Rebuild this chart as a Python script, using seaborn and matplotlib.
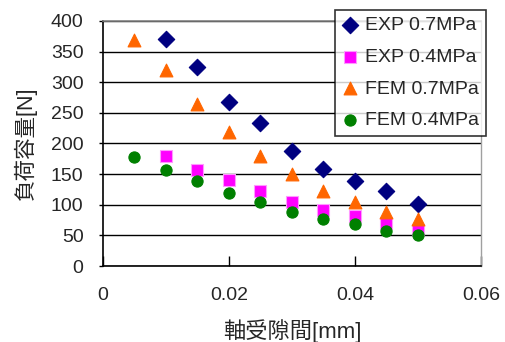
import numpy as np
import pandas as pd
import matplotlib
matplotlib.use("Agg")
import matplotlib.pyplot as plt
import seaborn as sns

# bearing clearance [mm]
clear_exp = [0.010, 0.015, 0.020, 0.025, 0.030, 0.035, 0.040, 0.045, 0.050]
clear_fem = [0.005, 0.010, 0.015, 0.020, 0.025, 0.030, 0.035, 0.040, 0.045, 0.050]

# load capacity [N]
exp_07 = [370, 325, 268, 233, 187, 158, 139, 122, 102]
exp_04 = [179, 157, 140, 123, 104, 92, 81, 71, 59]
fem_07 = [369, 320, 264, 219, 179, 150, 123, 104, 88, 77]
fem_04 = [178, 157, 138, 120, 104, 89, 77, 68, 58, 51]

series_names = ["EXP 0.7MPa", "EXP 0.4MPa", "FEM 0.7MPa", "FEM 0.4MPa"]
series_colors = ["#000080", "#FF00FF", "#FF6600", "#008000"]
series_markers = ["D", "s", "^", "o"]

frames = []
for name, xs, ys in zip(series_names,
                        [clear_exp, clear_exp, clear_fem, clear_fem],
                        [exp_07, exp_04, fem_07, fem_04]):
    frames.append(pd.DataFrame({"clearance": xs, "load": ys, "series": name}))
df = pd.concat(frames, ignore_index=True)

sns.set_style("white")
plt.rcParams['font.family'] = ['Liberation Sans', 'Noto Sans CJK JP', 'DejaVu Sans']

fig = plt.figure(figsize=(5.05, 3.42), dpi=100)
ax = fig.add_axes([0.204, 0.222, 0.748, 0.717])

# gridlines first so markers sit on top
ax.set_axisbelow(True)
ax.yaxis.grid(True, color="black", linewidth=1.0)
ax.xaxis.grid(False)

sizes = {"EXP 0.7MPa": 70, "EXP 0.4MPa": 70, "FEM 0.7MPa": 85, "FEM 0.4MPa": 65}
for name, col, mk in zip(series_names, series_colors, series_markers):
    sub = df[df["series"] == name]
    sns.scatterplot(data=sub, x="clearance", y="load", color=col, marker=mk,
                    s=sizes[name], edgecolor=col if name != "EXP 0.4MPa" else "#FF99FF",
                    linewidth=0.8, label=name, ax=ax, zorder=3)

ax.set_xlim(0, 0.06)
ax.set_ylim(0, 400)
ax.set_xticks([0, 0.02, 0.04, 0.06])
ax.set_xticklabels(["0", "0.02", "0.04", "0.06"])
ax.set_yticks(np.arange(0, 401, 50))

ax.tick_params(axis="x", direction="in", length=7, width=1, pad=15, labelsize=14, color="black")
ax.tick_params(axis="y", direction="out", length=3, width=1, pad=11, labelsize=14, color="black")
ax.tick_params(left=True, bottom=True)

for side in ["left", "bottom"]:
    ax.spines[side].set_color("black")
    ax.spines[side].set_linewidth(1.2)
ax.spines["top"].set_color("#808080")
ax.spines["top"].set_linewidth(1.2)
ax.spines["right"].set_color("#A0A0A0")
ax.spines["right"].set_linewidth(1.0)

ax.set_xlabel("軸受隙間[mm]", fontsize=16, labelpad=11)
ax.set_ylabel("負荷容量[N]", fontsize=15.5, labelpad=10)

leg = ax.legend(loc="upper right", bbox_to_anchor=(0.962, 0.971),
                bbox_transform=fig.transFigure, frameon=True, fontsize=14,
                handletextpad=0.3, borderpad=0.35, labelspacing=0.72,
                handlelength=0.9, borderaxespad=0, fancybox=False,
                edgecolor="black")
leg.get_frame().set_linewidth(1.2)

fig.savefig("out.png", dpi=100)
